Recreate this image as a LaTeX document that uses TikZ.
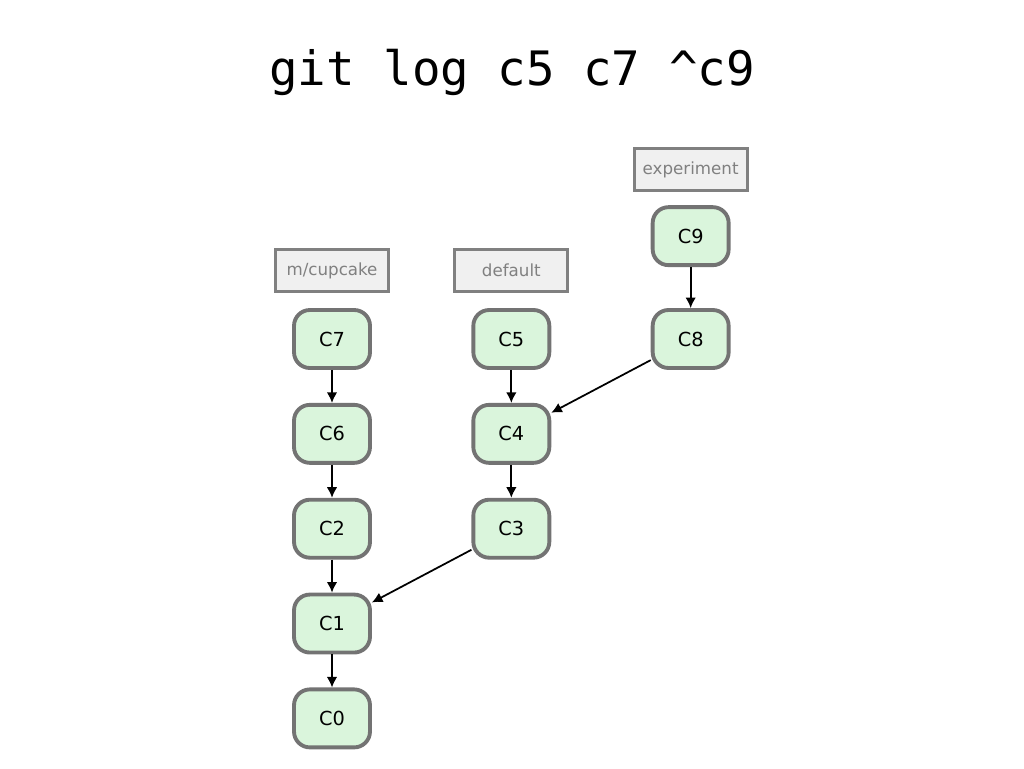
\documentclass[tikz,border=0pt]{standalone}
\usepackage{fontspec}
\setmainfont{DejaVu Sans}
\setmonofont{DejaVu Sans Mono}
\usetikzlibrary{positioning,arrows.meta}
\definecolor{commitfill}{HTML}{DAF5DC}
\definecolor{commitline}{HTML}{737373}
\definecolor{reffill}{HTML}{F0F0F0}
\definecolor{refline}{HTML}{808080}
\begin{document}
\begin{tikzpicture}[
  x=0.02cm, y=-0.02cm,
  node distance=0.66cm and 1.99cm,
  commit/.style={draw=commitline,fill=commitfill,line width=2.2pt,rounded corners=9pt,
    minimum width=1.52cm,minimum height=1.16cm,font=\fontsize{11}{13}\selectfont},
  branch/.style={draw=refline,fill=reffill,line width=1.6pt,text=refline,
    minimum width=2.26cm,minimum height=0.84cm,font=\fontsize{9.5}{11}\selectfont},
  parent/.style={-{Latex[length=6pt,width=6pt]},line width=1pt}
]
\useasboundingbox (0,0) rectangle (1024,768);

\node (title) at (512,72) {\fontsize{27}{32}\selectfont\ttfamily git log c5 c7 \textasciicircum c9};

\node[commit] (c7) at (332,339) {C7};
\node[commit,below=of c7] (c6) {C6};
\node[commit,below=of c6] (c2) {C2};
\node[commit,below=of c2] (c1) {C1};
\node[commit,below=of c1] (c0) {C0};
\node[commit,right=of c7] (c5) {C5};
\node[commit,below=of c5] (c4) {C4};
\node[commit,below=of c4] (c3) {C3};
\node[commit,right=of c5] (c8) {C8};
\node[commit,above=0.82cm of c8] (c9) {C9};

\node[branch,above=0.3cm of c7] (cupcake) {m/cupcake};
\node[branch,above=0.3cm of c5] (default) {default};
\node[branch,above=0.26cm of c9] (experiment) {experiment};

\path (c7) edge[parent] (c6);
\path (c6) edge[parent] (c2);
\path (c2) edge[parent] (c1);
\path (c1) edge[parent] (c0);
\path (c5) edge[parent] (c4);
\path (c4) edge[parent] (c3);
\path (c3) edge[parent] (c1);
\path (c9) edge[parent] (c8);
\path (c8) edge[parent] (c4);

\end{tikzpicture}
\end{document}
